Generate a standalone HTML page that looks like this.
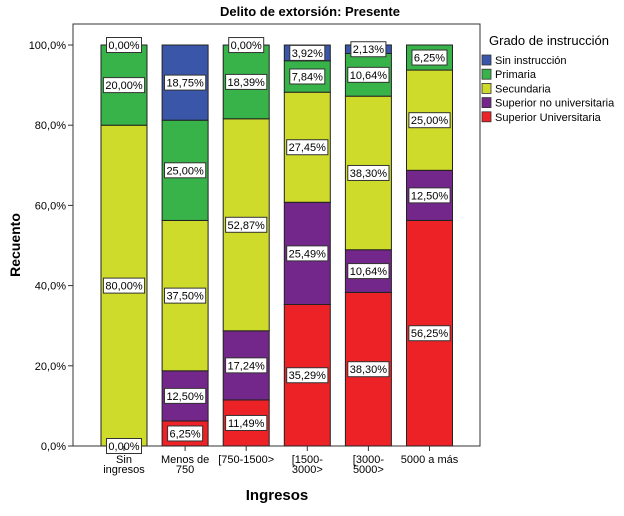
<!DOCTYPE html>
<html><head><meta charset="utf-8">
<style>
body{margin:0;background:#fff;}
svg{display:block;font-family:"Liberation Sans",sans-serif;}
</style></head>
<body>
<svg id="chart" width="624" height="516" viewBox="0 0 624 516">
<text x="310" y="16" text-anchor="middle" font-size="13" font-weight="bold">Delito de extorsión: Presente</text>
<rect x="73" y="24" width="407" height="422" fill="none" stroke="#333" stroke-width="1"/>
<text transform="translate(20,245) rotate(-90)" text-anchor="middle" font-size="14" font-weight="bold">Recuento</text>
<text x="277" y="500" text-anchor="middle" font-size="15" font-weight="bold">Ingresos</text>
<g id="yaxis"></g><g id="bars"></g><g id="labels"></g><g id="xaxis"></g><g id="legend"></g>
</svg>
<script>
const categories=[["Sin","ingresos"],["Menos de","750"],["[750-1500>"],["[1500-","3000>"],["[3000-","5000>"],["5000 a más"]];
const seriesNames=["Superior Universitaria","Superior no universitaria","Secundaria","Primaria","Sin instrucción"];
const superiorUniv=[0,6.25,11.49,35.29,38.30,56.25];
const superiorNoUniv=[0,12.5,17.24,25.49,10.64,12.5];
const secundaria=[80,37.5,52.87,27.45,38.30,25];
const primaria=[20,25,18.39,7.84,10.64,6.25];
const sinInstruccion=[0,18.75,0,3.92,2.13,0];
const yTicks=[0,20,40,60,80,100];
const yTickLabels=["0,0%","20,0%","40,0%","60,0%","80,0%","100,0%"];
const series=[superiorUniv,superiorNoUniv,secundaria,primaria,sinInstruccion];
const colors=["#ec2227","#74278a","#cfdb2a","#37b349","#3a56a8"];
const NS="http://www.w3.org/2000/svg";
const y0=446,y100=45;
function yScale(v){return y0-(y0-y100)*v/100;}
function xScale(i){return 101+i*61.1;}
const bw=46;
function mk(tag,attrs,parent){const e=document.createElementNS(NS,tag);for(const k in attrs)e.setAttribute(k,attrs[k]);parent.appendChild(e);return e;}
const ya=document.getElementById('yaxis');
yTicks.forEach((t,i)=>{
 const l=mk('line',{x1:68,x2:73,y1:yScale(t),y2:yScale(t),stroke:'#333'},ya);
 
 
 const tx=mk('text',{x:66,y:yScale(t)+4,'text-anchor':'end','font-size':11},ya);
 tx.textContent=yTickLabels[i];
 
 
});
const bg=document.getElementById('bars'),lg=document.getElementById('labels'),xa=document.getElementById('xaxis');
function label(x,y,txt){
 const w=txt.length*6.2+4;
 const r=mk('rect',{x:x-w/2,y:y-7.5,width:w,height:15,fill:'#fff',stroke:'#333','stroke-width':1},lg);
 
 
 const t=mk('text',{x:x,y:y+4,'text-anchor':'middle','font-size':11},lg);
 t.textContent=txt;
 
 
}
categories.forEach((c,i)=>{
 const x=xScale(i),cx=x+bw/2;
 let cum=0;
 series.forEach((s,k)=>{
  const v=s[i];
  if(v>0){
   const r=mk('rect',{x:x,y:yScale(cum+v),width:bw,height:yScale(cum)-yScale(cum+v),fill:colors[k],stroke:'#222','stroke-width':1},bg);
   
   
  }
  cum+=v;
 });
 cum=0;
 series.forEach((s,k)=>{
  const v=s[i];
  const mid=cum+v/2;
  const show=v>0||(i===0&&k===0)||(k===4&&(i===0||i===2));
  if(show) label(cx,yScale(mid),v.toFixed(2).replace('.',',')+'%');
  cum+=v;
 });
 const tk=mk('line',{x1:cx,x2:cx,y1:446,y2:451,stroke:'#333'},xa);
 
 
 c.forEach((ln,j)=>{
  const t=mk('text',{x:cx,y:463+j*10,'text-anchor':'middle','font-size':11},xa);
  t.textContent=ln;
  
  
 });
});
const leg=document.getElementById('legend');
const lt=mk('text',{x:489,y:45,'font-size':13},leg);
lt.textContent="Grado de instrucción";


const legOrder=[4,3,2,1,0];
legOrder.forEach((k,j)=>{
 const y=60+j*14.2;
 const r=mk('rect',{x:482,y:y-5,width:9,height:10,fill:colors[k],stroke:'#333','stroke-width':0.8},leg);
 
 
 const t=mk('text',{x:495,y:y+4,'font-size':11},leg);
 t.textContent=seriesNames[k];
 
 
});
</script>
</body></html>
